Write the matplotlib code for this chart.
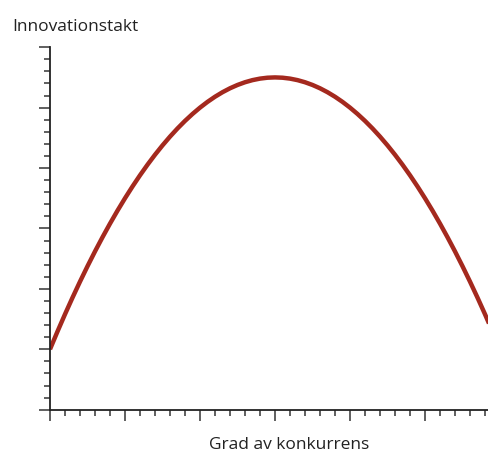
import matplotlib
matplotlib.use('Agg')
import matplotlib.pyplot as plt
from matplotlib.ticker import MultipleLocator

# grad av konkurrens (x) och innovationstakt (y)
konkurrens = [i / 10 for i in range(61)]
innovation = [1.000, 1.295, 1.580, 1.855, 2.120, 2.375, 2.620, 2.855, 3.080, 3.295,
              3.500, 3.695, 3.880, 4.055, 4.220, 4.375, 4.520, 4.655, 4.780, 4.895,
              5.000, 5.095, 5.180, 5.255, 5.320, 5.375, 5.420, 5.455, 5.480, 5.495,
              5.500,
              5.495, 5.480, 5.455, 5.420, 5.375, 5.320, 5.255, 5.180, 5.095, 5.000,
              4.895, 4.780, 4.655, 4.520, 4.375, 4.220, 4.055, 3.880, 3.695, 3.500,
              3.295, 3.080, 2.855, 2.620, 2.375, 2.120, 1.855, 1.580, 1.295, 1.000]

plt.rcParams['font.family'] = ['Open Sans', 'DejaVu Sans']

fig = plt.figure(figsize=(4.89, 4.55), dpi=100)
ax = fig.add_axes([50 / 489, 45.3 / 455, 1 - 50 / 489, 362.5 / 455])

ax.plot(konkurrens, innovation, color='#a4291e', linewidth=3.2,
        solid_capstyle='butt', solid_joinstyle='round')

ax.set_xlim(0, 439 / 75)
ax.set_ylim(0, 6)
ax.xaxis.set_major_locator(MultipleLocator(1))
ax.xaxis.set_minor_locator(MultipleLocator(0.2))
ax.yaxis.set_major_locator(MultipleLocator(1))
ax.yaxis.set_minor_locator(MultipleLocator(0.2))
ax.tick_params(which='major', length=8, width=1.2, color='#444444',
               labelbottom=False, labelleft=False)
ax.tick_params(which='minor', length=4, width=1.2, color='#444444')

for side in ['top', 'right']:
    ax.spines[side].set_visible(False)
for side in ['left', 'bottom']:
    ax.spines[side].set_color('#222222')
    ax.spines[side].set_linewidth(1.3)

fig.text(12 / 489, 1 - 31 / 455, 'Innovationstakt', fontsize=12.5, color='#222222',
         ha='left', va='baseline')
fig.text(289 / 489, 1 - 445 / 455, 'Grad av konkurrens', fontsize=12.5, color='#222222',
         ha='center', va='center')

fig.savefig('out.png', dpi=100)
